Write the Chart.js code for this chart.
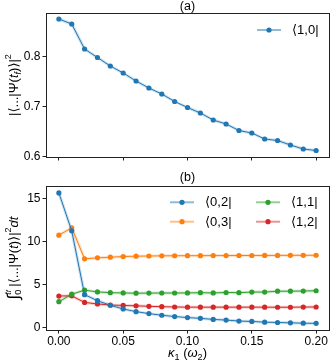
<!DOCTYPE html>
<html>
<head>
<meta charset="utf-8">
<script src="https://cdn.jsdelivr.net/npm/chart.js@4"></script>
<style>
  html, body { margin: 0; padding: 0; background: #fff; }
  #wrap { position: relative; width: 332px; height: 362px; }
  canvas { position: absolute; left: 0; }
  #chartA { top: 0; }
  #chartB { top: 170px; }
</style>
</head>
<body>
<div id="wrap">
  <canvas id="chartA" width="332" height="170"></canvas>
  <canvas id="chartB" width="332" height="192"></canvas>
</div>
<script>
const FONT = '"Liberation Sans", "DejaVu Sans", sans-serif';

// coupling strength kappa_1 (in units of omega_2)
const kappa = [0.00, 0.01, 0.02, 0.03, 0.04, 0.05, 0.06, 0.07, 0.08, 0.09, 0.10,
               0.11, 0.12, 0.13, 0.14, 0.15, 0.16, 0.17, 0.18, 0.19, 0.20];

// (a) final overlap with <1,0|
const state10 = [0.875, 0.865, 0.815, 0.798, 0.781, 0.767, 0.751, 0.737, 0.725, 0.710, 0.698,
                 0.687, 0.673, 0.665, 0.652, 0.647, 0.635, 0.632, 0.623, 0.615, 0.612];

// (b) time-integrated populations
const state02 = [15.65, 11.25, 3.85, 3.15, 2.62, 2.19, 1.88, 1.65, 1.46, 1.31, 1.19,
                 1.10, 0.98, 0.90, 0.79, 0.74, 0.66, 0.62, 0.58, 0.54, 0.52];
const state03 = [10.75, 11.6, 8.0, 8.12, 8.19, 8.27, 8.31, 8.33, 8.35, 8.36, 8.37,
                 8.37, 8.38, 8.38, 8.39, 8.39, 8.40, 8.40, 8.41, 8.41, 8.42];
const state11 = [3.03, 3.9, 4.37, 4.17, 4.08, 4.05, 4.02, 4.03, 4.04, 4.04, 4.05,
                 4.08, 4.05, 4.10, 4.08, 4.15, 4.15, 4.25, 4.25, 4.27, 4.30];
const state12 = [3.69, 3.71, 2.95, 2.77, 2.65, 2.60, 2.55, 2.50, 2.45, 2.42, 2.40,
                 2.40, 2.40, 2.40, 2.40, 2.40, 2.40, 2.39, 2.39, 2.41, 2.42];

const xTicks = [0.00, 0.05, 0.10, 0.15, 0.20];
const yTicksA = [0.6, 0.7, 0.8];
const yTicksB = [0, 5, 10, 15];

const colors = { blue: '#1f77b4', orange: '#ff7f0e', green: '#2ca02c', red: '#d62728' };

// draw a run of text pieces (plain / italic / sub / sup) centred on (0,0)
// a piece with stay:true does not move the pen, so the next one stacks over it
function drawRich(ctx, parts, size) {
  const pieces = parts.map(p => {
    const s = (p.pos ? size * 0.7 : size) * (p.big || 1);
    const f = (p.it ? 'italic ' : '') + s + 'px ' + FONT;
    ctx.font = f;
    return { t: p.t, f: f, w: ctx.measureText(p.t).width, stay: p.stay,
             dy: p.pos === 'sub' ? size * 0.32 : p.pos === 'sup' ? -size * 0.42 : 0 };
  });
  const total = pieces.reduce((a, p) => a + (p.stay ? 0 : p.w), 0);
  let x = -total / 2;
  ctx.textAlign = 'left';
  ctx.textBaseline = 'middle';
  pieces.forEach(p => {
    ctx.font = p.f;
    ctx.fillText(p.t, x, p.dy);
    if (!p.stay) x += p.w;
  });
}

const framePlugin = {
  id: 'frame',
  beforeDatasetsDraw(chart) {
    const { ctx } = chart;
    // faint band under each line
    chart.data.datasets.forEach((ds, i) => {
      const pts = chart.getDatasetMeta(i).data;
      ctx.save();
      ctx.globalAlpha = 0.22;
      ctx.strokeStyle = ds.borderColor;
      ctx.lineWidth = 3;
      ctx.lineJoin = 'round';
      ctx.beginPath();
      pts.forEach((p, j) => j ? ctx.lineTo(p.x, p.y) : ctx.moveTo(p.x, p.y));
      ctx.stroke();
      ctx.restore();
    });
  },
  afterDraw(chart) {
    const { ctx, chartArea: a } = chart;
    const o = chart.options.plugins.frame;
    ctx.save();
    ctx.strokeStyle = '#222';
    ctx.lineWidth = 1;
    ctx.strokeRect(Math.round(a.left) + 0.5, Math.round(a.top) + 0.5,
                   Math.round(a.right - a.left), Math.round(a.bottom - a.top));
    ctx.fillStyle = '#000';

    // panel title
    ctx.font = '12.5px ' + FONT;
    ctx.textAlign = 'center';
    ctx.textBaseline = 'middle';
    ctx.fillText(o.title, (a.left + a.right) / 2, o.titleY);

    // y label
    ctx.save();
    ctx.translate(14, (a.top + a.bottom) / 2);
    ctx.rotate(-Math.PI / 2);
    drawRich(ctx, o.yLabel, 13);
    ctx.restore();

    // x label
    if (o.xLabel) {
      ctx.save();
      ctx.translate((a.left + a.right) / 2, o.xLabelY);
      drawRich(ctx, o.xLabel, 13);
      ctx.restore();
    }

    // legend
    o.legend.forEach(e => {
      const ds = chart.data.datasets[e.index];
      ctx.strokeStyle = ds.borderColor;
      ctx.globalAlpha = 0.5;
      ctx.lineWidth = 2;
      ctx.beginPath();
      ctx.moveTo(e.x, e.y);
      ctx.lineTo(e.x + 24, e.y);
      ctx.stroke();
      ctx.globalAlpha = 1;
      ctx.fillStyle = ds.borderColor;
      ctx.beginPath();
      ctx.arc(e.x + 12, e.y, 2.6, 0, Math.PI * 2);
      ctx.fill();
      ctx.fillStyle = '#000';
      ctx.font = '13px ' + FONT;
      ctx.textAlign = 'left';
      ctx.textBaseline = 'middle';
      ctx.fillText(ds.label, e.x + 35, e.y + 0.5);
    });
    ctx.restore();
  }
};

function series(label, values, color) {
  return {
    label: label,
    data: kappa.map((k, i) => ({ x: k, y: values[i] })),
    borderColor: color,
    backgroundColor: color,
    borderWidth: 1,
    pointRadius: 2.6,
    pointBorderWidth: 0,
    pointHoverRadius: 2.6,
    tension: 0
  };
}

function axisCommon(ticksList) {
  return {
    type: 'linear',
    afterBuildTicks: s => { s.ticks = ticksList.map(v => ({ value: v })); },
    grid: { drawOnChartArea: false, drawTicks: true, tickLength: 3.5, color: '#222', tickWidth: 1 },
    border: { display: true, color: '#222', width: 1 }
  };
}

function makeChart(id, datasets, yMin, yMax, yTicks, yFmt, showX, frame) {
  const h = document.getElementById(id).height;
  const xAxis = Object.assign(axisCommon(xTicks), {
    min: -0.01, max: 0.21,
    afterFit: s => { s.height = showX ? h - 160 : h - 157; },
    ticks: { display: showX, padding: 1, color: '#000', font: { family: FONT, size: 12 },
             callback: v => v.toFixed(2) }
  });
  const yAxis = Object.assign(axisCommon(yTicks), {
    min: yMin, max: yMax,
    afterFit: s => { s.width = 46; },
    ticks: { padding: 2, color: '#000', font: { family: FONT, size: 12 }, callback: yFmt }
  });
  return new Chart(document.getElementById(id), {
    type: 'line',
    data: { datasets: datasets },
    options: {
      responsive: false,
      animation: false,
      layout: { padding: { left: 0, right: 3, top: showX ? 16 : 13, bottom: 0 } },
      scales: { x: xAxis, y: yAxis },
      plugins: { legend: { display: false }, tooltip: { enabled: false }, frame: frame }
    },
    plugins: [framePlugin]
  });
}

makeChart('chartA',
  [series('⟨1,0|', state10, colors.blue)],
  0.599, 0.887, yTicksA, v => v.toFixed(1), false,
  {
    title: '(a)', titleY: 7,
    yLabel: [{ t: '|⟨...|Ψ(' }, { t: 't', it: true }, { t: 'f', it: true, pos: 'sub' },
             { t: ')⟩|' }, { t: '2', pos: 'sup' }],
    legend: [{ index: 0, x: 257, y: 30 }]
  });

makeChart('chartB',
  [series('⟨0,2|', state02, colors.blue),
   series('⟨0,3|', state03, colors.orange),
   series('⟨1,1|', state11, colors.green),
   series('⟨1,2|', state12, colors.red)],
  -0.25, 16.45, yTicksB, v => String(v), true,
  {
    title: '(b)', titleY: 7.5,
    yLabel: [{ t: '∫', big: 1.3 }, { t: '0', pos: 'sub', stay: true },
             { t: 't', it: true, pos: 'sup' }, { t: 'f', it: true, pos: 'sup', big: 0.8 },
             { t: ' |⟨...|Ψ(' }, { t: 't', it: true },
             { t: ')⟩|' }, { t: '2', pos: 'sup' }, { t: 'dt', it: true }],
    xLabel: [{ t: 'κ', it: true }, { t: '1', pos: 'sub' }, { t: ' (' }, { t: 'ω', it: true },
             { t: '2', pos: 'sub' }, { t: ')' }],
    xLabelY: 183,
    legend: [{ index: 0, x: 170, y: 32.3 }, { index: 1, x: 170, y: 51.7 },
             { index: 2, x: 256, y: 32.3 }, { index: 3, x: 256, y: 51.7 }]
  });
</script>
</body>
</html>
